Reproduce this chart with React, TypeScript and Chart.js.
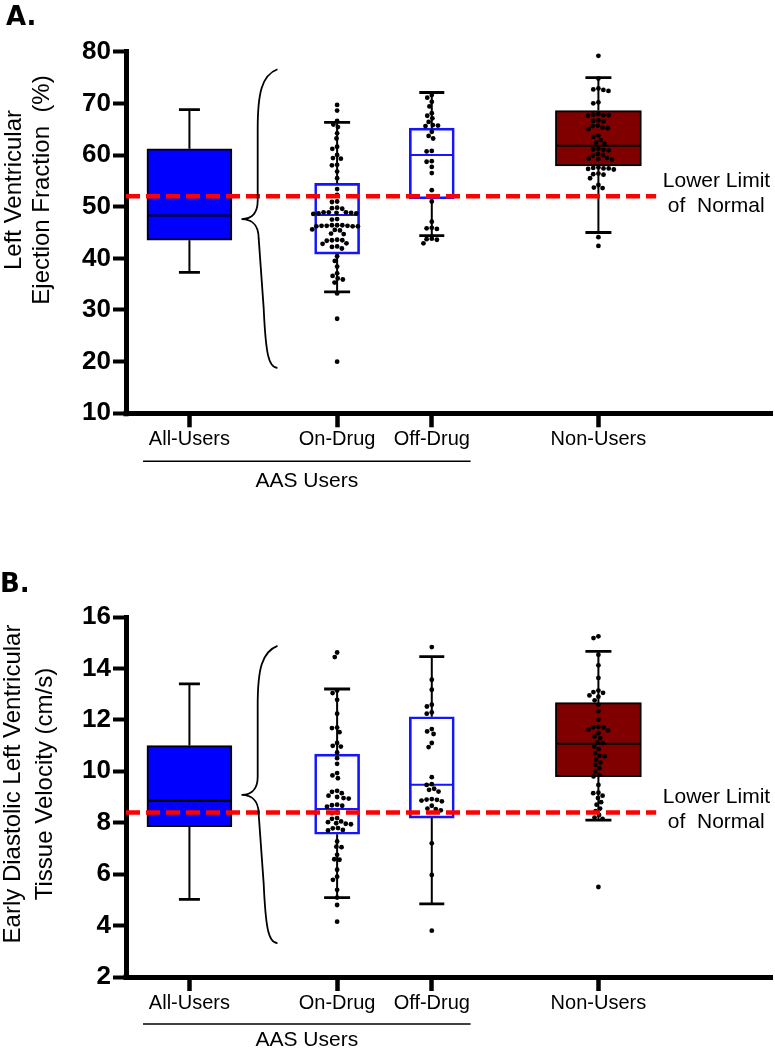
import React, { useEffect, useRef } from 'react';
import { Chart, registerables } from 'chart.js';

Chart.register(...registerables);

const FONT = "'Liberation Sans', Arial, Helvetica, sans-serif";
const LETTER_FONT = "'DejaVu Sans', 'Liberation Sans', Arial, sans-serif";

// ---------------- data ----------------
const categories = ['All-Users', 'On-Drug', 'Off-Drug', 'Non-Users'];
const categoryX = [1, 2.56, 3.56, 5.32];
const xRange = [0.33, 7.16];
const groupLabel = 'AAS Users';
const groupSpan = [0.51, 3.97];
const lowerLimitLabel = ['Lower Limit', 'of  Normal'];
const lowerLimitSpan = [0.33, 5.93];
const lowerLimitLabelX = 6.0;
const braceX = [1.93, 1.55]; // ends, tip

// Panel A: Left Ventricular Ejection Fraction (%)
const efTicks = [10, 20, 30, 40, 50, 60, 70, 80];
const efQ1 = [43.5, 40.8, 51.5, 57.9];
const efMedian = [48.3, 48.4, 60.0, 61.8];
const efQ3 = [61.2, 54.5, 65.2, 68.6];
const efWhiskerLow = [37.3, 33.5, 44.4, 45.0];
const efWhiskerHigh = [68.8, 66.3, 72.1, 75.0];
const efLowerLimit = 52;
const efBrace = [76.6, 47.6, 18.8];
const efOnDrug = [69.7, 68.6, 66.6, 65.9, 65.4, 64.2, 63.2, 61.6, 61.2, 60.0, 59.4, 59.3, 58.1, 58.0, 56.8, 55.5, 53.4, 52.3, 51.0, 50.9, 49.8, 49.7, 49.6, 48.9, 48.8, 48.7, 48.9, 48.6, 48.8, 48.7, 48.9, 47.6, 47.5, 46.4, 46.3, 46.2, 46.4, 46.3, 46.2, 46.3, 46.4, 46.2, 45.5, 45.4, 45.6, 44.8, 44.7, 43.5, 43.4, 43.6, 43.5, 42.9, 42.8, 42.3, 42.2, 41.9, 40.4, 39.5, 38.4, 37.1, 36.6, 36.1, 35.9, 35.3, 33.2, 28.3, 20.0];
const efOffDrug = [71.6, 71.1, 70.3, 69.4, 68.1, 67.6, 67.1, 66.4, 65.7, 65.6, 65.8, 64.5, 63.7, 63.2, 60.8, 60.7, 58.8, 58.7, 57.7, 56.5, 53.2, 51.0, 47.1, 45.8, 45.7, 45.9, 43.7, 43.6, 43.8, 42.9];
const efNonUsers = [79.2, 74.8, 72.9, 72.7, 72.6, 72.4, 70.2, 70.0, 67.9, 67.8, 67.7, 67.7, 67.6, 66.7, 66.6, 66.5, 65.7, 65.6, 65.3, 65.2, 65.0, 63.8, 63.5, 62.9, 62.4, 62.2, 61.2, 61.1, 61.0, 60.9, 60.2, 60.0, 59.9, 59.4, 59.3, 59.2, 59.1, 57.6, 57.5, 57.4, 57.4, 57.3, 57.2, 56.4, 56.3, 56.2, 55.5, 54.2, 53.7, 53.6, 44.1, 42.4];

// Panel B: Early Diastolic LV Tissue Velocity (cm/s)
const evTicks = [2, 4, 6, 8, 10, 12, 14, 16];
const evQ1 = [7.85, 7.55, 8.18, 9.79];
const evMedian = [8.85, 8.53, 9.48, 11.07];
const evQ3 = [11.0, 10.67, 12.12, 12.67];
const evWhiskerLow = [5.02, 5.09, 4.84, 8.1];
const evWhiskerHigh = [13.4, 13.2, 14.46, 14.66];
const evLowerLimit = 8.4;
const evBrace = [14.88, 9.08, 3.32];
const evOnDrug = [14.62, 14.44, 13.14, 13.04, 12.78, 12.24, 11.70, 11.68, 11.52, 11.10, 10.99, 10.96, 10.73, 10.51, 10.29, 9.93, 9.84, 9.73, 9.24, 9.20, 9.15, 9.05, 9.00, 8.96, 8.94, 8.70, 8.68, 8.66, 8.62, 8.40, 8.37, 8.18, 8.15, 8.05, 8.02, 7.98, 7.96, 7.94, 7.79, 7.78, 7.72, 7.70, 7.27, 7.07, 7.05, 6.75, 6.58, 6.56, 6.17, 5.90, 5.78, 5.39, 5.09, 4.80, 4.15];
const evOffDrug = [14.83, 13.56, 13.17, 12.59, 12.52, 12.29, 12.24, 11.64, 11.55, 11.45, 11.10, 10.94, 9.77, 9.50, 9.47, 9.32, 9.28, 9.21, 8.92, 8.90, 8.89, 8.86, 8.83, 8.66, 8.55, 8.53, 8.48, 7.20, 5.97, 3.80];
const evNonUsers = [15.25, 15.18, 14.53, 14.12, 13.63, 13.14, 13.08, 13.05, 12.95, 12.90, 12.76, 12.59, 12.33, 12.00, 11.72, 11.71, 11.70, 11.62, 11.59, 11.48, 11.35, 11.29, 11.12, 11.10, 10.96, 10.86, 10.71, 10.60, 10.58, 10.45, 10.34, 10.25, 10.12, 9.99, 9.86, 9.80, 9.47, 9.17, 9.15, 9.05, 8.96, 8.80, 8.70, 8.55, 8.45, 8.30, 8.20, 8.15, 5.50];

// ---------------- styles ----------------
const boxWidths = [85, 45, 45, 86];
const capWidths = [21, 26, 25, 26];
const boxFill = ['#0000ff', 'rgba(255,255,255,0)', 'rgba(255,255,255,0)', '#800000'];
const boxEdge = ['#000000', '#1414ff', '#1414ff', '#000000'];
const medianColor = ['#000000', '#1414ff', '#1414ff', '#000000'];

interface Panel {
  letter: string; letterPos: [number, number];
  yTitle: string[]; yTitleX: number[]; yTitleY: number;
  height: number; topPad: number; xAxisHeight: number;
  groupLineOffset: number; groupTextOffset: number;
  ticks: number[];
  q1: number[]; median: number[]; q3: number[]; lo: number[]; hi: number[];
  points: number[][];
  lowerLimit: number; brace: number[];
}

const panelA: Panel = {
  letter: 'A.', letterPos: [6, 25],
  yTitle: ['Left Ventricular', 'Ejection Fraction  (%)'], yTitleX: [14, 42], yTitleY: 190,
  height: 530, topPad: 51.7, xAxisHeight: 116.7,
  groupLineOffset: 48, groupTextOffset: 68,
  ticks: efTicks,
  q1: efQ1, median: efMedian, q3: efQ3, lo: efWhiskerLow, hi: efWhiskerHigh,
  points: [[], efOnDrug, efOffDrug, efNonUsers],
  lowerLimit: efLowerLimit, brace: efBrace,
};

const panelB: Panel = {
  letter: 'B.', letterPos: [0, 62],
  yTitle: ['Early Diastolic Left Ventricular', 'Tissue Velocity (cm/s)'], yTitleX: [13.5, 45], yTitleY: 254,
  height: 520, topPad: 87, xAxisHeight: 73,
  groupLineOffset: 47, groupTextOffset: 63,
  ticks: evTicks,
  q1: evQ1, median: evMedian, q3: evQ3, lo: evWhiskerLow, hi: evWhiskerHigh,
  points: [[], evOnDrug, evOffDrug, evNonUsers],
  lowerLimit: evLowerLimit, brace: evBrace,
};

function swarmOffsets(pix: number[], d: number): number[] {
  const order = pix.map((_, i) => i).sort((a, b) => pix[a] - pix[b]);
  const placed: { x: number; y: number }[] = [];
  const out = new Array(pix.length).fill(0);
  for (const i of order) {
    const y = pix[i];
    const intervals: [number, number][] = [];
    for (const p of placed) {
      const dy = Math.abs(p.y - y);
      if (dy < d) {
        const w = Math.sqrt(d * d - dy * dy);
        intervals.push([p.x - w, p.x + w]);
      }
    }
    const cands = [0];
    intervals.forEach(([a, b]) => cands.push(a, b));
    cands.sort((a, b) => Math.abs(a) - Math.abs(b));
    let best = 0;
    for (const c of cands) {
      if (intervals.every(([a, b]) => c <= a + 1e-6 || c >= b - 1e-6)) { best = c; break; }
    }
    placed.push({ x: best, y });
    out[i] = best;
  }
  return out;
}

const POINTS_INDEX = 4;

function makePlugin(p: Panel) {
  return {
    id: 'panelDecor',
    beforeDatasetDraw(chart: any, args: any) {
      if (args.index !== POINTS_INDEX) return;
      const ctx = chart.ctx; const xs = chart.scales.x; const ys = chart.scales.y;
      ctx.save();
      categoryX.forEach((cx, i) => {
        const x = xs.getPixelForValue(cx);
        const yq1 = ys.getPixelForValue(p.q1[i]);
        const yq3 = ys.getPixelForValue(p.q3[i]);
        const ylo = ys.getPixelForValue(p.lo[i]);
        const yhi = ys.getPixelForValue(p.hi[i]);
        const ym = ys.getPixelForValue(p.median[i]);
        ctx.strokeStyle = '#000';
        ctx.lineWidth = 2;
        ctx.beginPath();
        ctx.moveTo(x, yq3); ctx.lineTo(x, yhi);
        ctx.moveTo(x, yq1); ctx.lineTo(x, ylo);
        ctx.stroke();
        ctx.lineWidth = 2.8;
        ctx.beginPath();
        ctx.moveTo(x - capWidths[i] / 2, yhi); ctx.lineTo(x + capWidths[i] / 2, yhi);
        ctx.moveTo(x - capWidths[i] / 2, ylo); ctx.lineTo(x + capWidths[i] / 2, ylo);
        ctx.stroke();
        ctx.strokeStyle = medianColor[i];
        ctx.lineWidth = 2;
        ctx.beginPath();
        ctx.moveTo(x - boxWidths[i] / 2 + 1, ym); ctx.lineTo(x + boxWidths[i] / 2 - 1, ym);
        ctx.stroke();
      });
      ctx.restore();
    },
    afterDraw(chart: any) {
      const ctx = chart.ctx; const xs = chart.scales.x; const ys = chart.scales.y; const area = chart.chartArea;
      ctx.save();
      ctx.fillStyle = '#000';
      ctx.fillRect(area.left - 2.5, area.bottom - 2.5, 5, 5.5);
      // panel letter
      ctx.font = `bold 26px ${LETTER_FONT}`;
      ctx.textAlign = 'left'; ctx.textBaseline = 'alphabetic';
      ctx.fillText(p.letter, p.letterPos[0], p.letterPos[1]);
      // y title
      ctx.font = `24px ${FONT}`;
      p.yTitle.forEach((line, i) => {
        ctx.save();
        ctx.translate(p.yTitleX[i], p.yTitleY);
        ctx.rotate(-Math.PI / 2);
        ctx.textAlign = 'center'; ctx.textBaseline = 'middle';
        ctx.fillText(line, 0, 0);
        ctx.restore();
      });
      // brace
      const xe = xs.getPixelForValue(braceX[0]);
      const xt = xs.getPixelForValue(braceX[1]);
      const yt = ys.getPixelForValue(p.brace[0]);
      const ym = ys.getPixelForValue(p.brace[1]);
      const yb = ys.getPixelForValue(p.brace[2]);
      const xa = xt + (xe - xt) * 0.45;
      const h1 = ym - yt; const h2 = yb - ym;
      ctx.strokeStyle = '#000'; ctx.lineWidth = 1.8;
      ctx.beginPath();
      ctx.moveTo(xe, yt);
      ctx.bezierCurveTo(xa + 4, yt + h1 * 0.04, xa, yt + h1 * 0.16, xa, yt + h1 * 0.4);
      ctx.lineTo(xa, ym - h1 * 0.12);
      ctx.bezierCurveTo(xa, ym - h1 * 0.02, xt + 7, ym, xt, ym);
      ctx.bezierCurveTo(xt + 7, ym, xa + 1, ym + h2 * 0.02, xa + 1, ym + h2 * 0.13);
      ctx.lineTo(xa + 6, yb - h2 * 0.4);
      ctx.bezierCurveTo(xa + 8, yb - h2 * 0.1, xe - 9, yb, xe, yb);
      ctx.stroke();
      // group line & label
      const gx1 = xs.getPixelForValue(groupSpan[0]);
      const gx2 = xs.getPixelForValue(groupSpan[1]);
      ctx.lineWidth = 1.5;
      ctx.beginPath();
      ctx.moveTo(gx1, area.bottom + p.groupLineOffset); ctx.lineTo(gx2, area.bottom + p.groupLineOffset);
      ctx.stroke();
      ctx.font = `21px ${FONT}`;
      ctx.textAlign = 'center'; ctx.textBaseline = 'middle';
      ctx.fillText(groupLabel, (gx1 + gx2) / 2, area.bottom + p.groupTextOffset);
      // lower limit label
      const ry = ys.getPixelForValue(p.lowerLimit);
      const lx = xs.getPixelForValue(lowerLimitLabelX);
      ctx.font = `21px ${FONT}`;
      ctx.textAlign = 'left'; ctx.textBaseline = 'middle';
      ctx.fillText(lowerLimitLabel[0], lx, ry - 15);
      ctx.fillText(lowerLimitLabel[1], lx + 5, ry + 10);
      ctx.restore();
    },
  };
}

function buildConfig(p: Panel): any {
  const boxDatasets = categoryX.map((cx, i) => ({
    type: 'bar',
    data: [{ x: cx, y: [p.q1[i], p.q3[i]] }],
    backgroundColor: boxFill[i],
    borderColor: boxEdge[i],
    borderWidth: 2,
    borderSkipped: false,
    grouped: false,
    barPercentage: 1,
    categoryPercentage: 1,
    maxBarThickness: boxWidths[i],
    order: 2,
  }));
  const pointData: any[] = [];
  p.points.forEach((vals, gi) => vals.forEach((v) => pointData.push({ x: categoryX[gi], y: v })));
  return {
    type: 'bar',
    data: {
      datasets: [
        ...boxDatasets,
        {
          type: 'scatter',
          data: pointData,
          pointRadius: 2.4,
          pointHoverRadius: 2.4,
          pointBackgroundColor: '#000',
          pointBorderWidth: 0,
          order: 1,
        },
        {
          type: 'line',
          data: [{ x: lowerLimitSpan[0], y: p.lowerLimit }, { x: lowerLimitSpan[1], y: p.lowerLimit }],
          borderColor: '#ff0000',
          borderWidth: 4.5,
          borderDash: [14, 6],
          pointRadius: 0,
          showLine: true,
          fill: false,
          tension: 0,
          order: 0,
        },
      ],
    },
    options: {
      responsive: false,
      animation: false,
      events: [],
      layout: { padding: { top: p.topPad, left: 0, right: 0, bottom: 0 } },
      plugins: { legend: { display: false }, tooltip: { enabled: false }, title: { display: false } },
      scales: {
        x: {
          type: 'linear',
          min: xRange[0],
          max: xRange[1],
          offset: false,
          afterBuildTicks: (s: any) => { s.ticks = categoryX.map((v) => ({ value: v })); },
          afterFit: (s: any) => { s.height = p.xAxisHeight; },
          grid: { drawOnChartArea: false, drawTicks: true, tickLength: 14, tickWidth: 4.5, tickColor: '#000', offset: false },
          border: { display: true, width: 5, color: '#000' },
          ticks: {
            autoSkip: false, maxRotation: 0, minRotation: 0, padding: 0, color: '#000',
            font: { family: FONT, size: 20 },
            callback: (value: any) => {
              const i = categoryX.indexOf(Number(value));
              return i >= 0 ? categories[i] : '';
            },
          },
        },
        y: {
          type: 'linear',
          min: p.ticks[0],
          max: p.ticks[p.ticks.length - 1],
          afterBuildTicks: (s: any) => { s.ticks = p.ticks.map((v) => ({ value: v })); },
          afterFit: (s: any) => { s.width = 126; },
          grid: { drawOnChartArea: false, drawTicks: true, tickLength: 13, tickWidth: 4, tickColor: '#000' },
          border: { display: true, width: 5, color: '#000' },
          ticks: { padding: 2, color: '#000', font: { family: FONT, size: 26, weight: 'bold' } },
        },
      },
    },
    plugins: [makePlugin(p)],
  };
}

function PanelChart({ panel }: { panel: Panel }) {
  const ref = useRef<HTMLCanvasElement | null>(null);
  useEffect(() => {
    if (!ref.current) return;
    const chart = new Chart(ref.current, buildConfig(panel));
    const xs: any = chart.scales.x;
    const ys: any = chart.scales.y;
    const pxPerX = xs.getPixelForValue(1) - xs.getPixelForValue(0);
    const pts: any[] = [];
    panel.points.forEach((vals, gi) => {
      const pix = vals.map((v) => ys.getPixelForValue(v));
      const off = swarmOffsets(pix, 5.2);
      vals.forEach((v, k) => pts.push({ x: categoryX[gi] + off[k] / pxPerX, y: v }));
    });
    (chart.data.datasets[POINTS_INDEX] as any).data = pts;
    chart.update('none');
    return () => chart.destroy();
  }, [panel]);
  return <canvas ref={ref} width={775} height={panel.height} style={{ display: 'block' }} />;
}

export default function App() {
  return (
    <div style={{ position: 'absolute', left: 0, top: 0, width: 775, height: 1050, background: '#fff' }}>
      <PanelChart panel={panelA} />
      <PanelChart panel={panelB} />
    </div>
  );
}
